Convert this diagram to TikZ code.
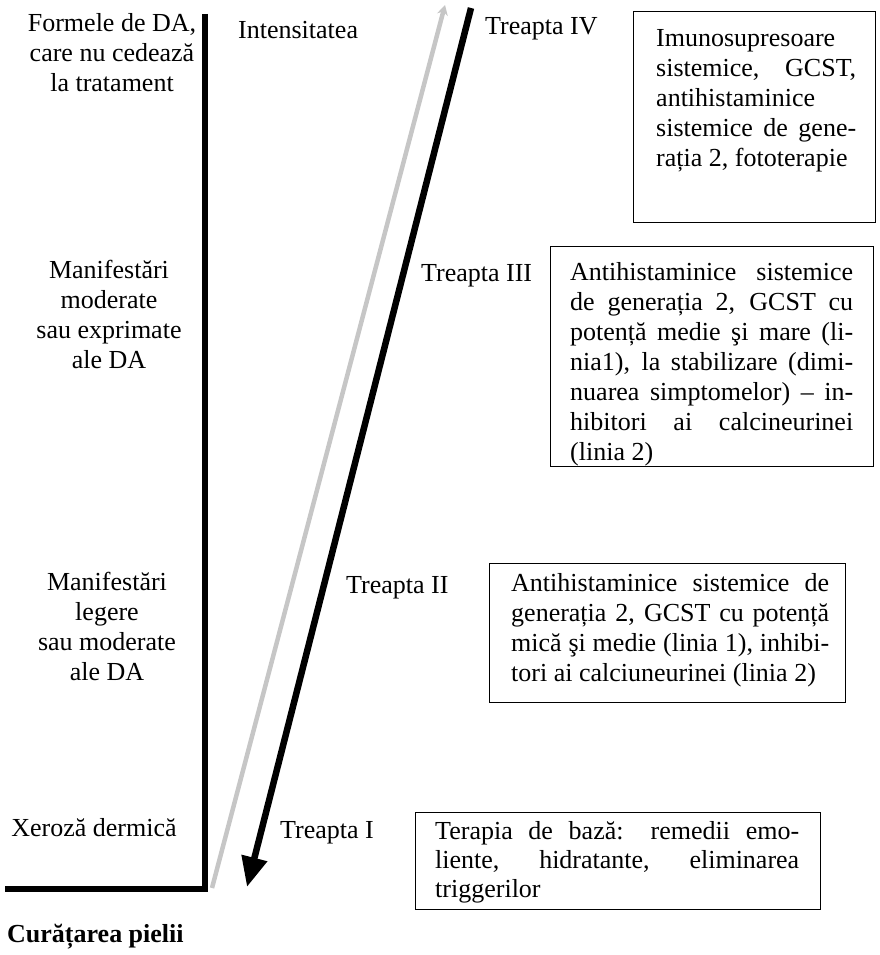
\documentclass[tikz,border=0pt]{standalone}
\usepackage{fontspec}
\setmainfont{Liberation Serif}
\usetikzlibrary{arrows.meta}
\begin{document}
\hyphenpenalty=10000 \tolerance=10000
\begin{tikzpicture}[x=1pt,y=-1pt,
  lbl/.style={font=\fontsize{26}{30}\selectfont, align=center, inner sep=0pt, anchor=base},
  stp/.style={font=\fontsize{26}{30.5}\selectfont, inner sep=0pt, anchor=base west},
  frame/.style={draw, line width=1.3pt, inner sep=0pt, anchor=north west},
  boxtext/.style={font=\fontsize{26}{30}\selectfont, align=justify, inner sep=0pt, anchor=base west}
]
\useasboundingbox (0,0) rectangle (879,955);

% axis
\coordinate (axtop) at (205,14);
\coordinate (axcorner) at (205,889);
\coordinate (axleft) at (5,889);
\draw[line width=6.5pt, line join=miter] (axtop) -- (axcorner) -- (axleft);

% arrows
\coordinate (gA) at (212,888);
\coordinate (gB) at (445,5);
\draw[gray!45, line width=4.5pt, -{Stealth[length=10pt,width=11pt]}] (gA) -- (gB);
\coordinate (kA) at (471,8);
\coordinate (kB) at (247,887);
\draw[line width=6.5pt, -{Triangle[length=30pt,width=25pt]}] (kA) -- (kB);

% left labels (anchor = baseline of last line)
\node[lbl] (l4) at (112,92) {Formele de DA,\\care nu cedează\\la tratament};
\node[lbl] (l3) at (109,368) {Manifestări\\moderate\\sau exprimate\\ale DA};
\node[lbl] (l2) at (107,680) {Manifestări\\legere\\sau moderate\\ale DA};
\node[lbl] (l1) at (94,836) {Xeroză dermică};
\node[font=\fontsize{26}{30}\selectfont\bfseries, inner sep=0pt, anchor=base west] (cur) at (7,942) {Curățarea pielii};
\node[stp] (int) at (238,39) {Intensitatea};

% steps
\node[stp] (s4) at (485,35) {Treapta IV};
\node[stp] (s3) at (421,281) {Treapta III};
\node[stp] (s2) at (346,593) {Treapta II};
\node[stp] (s1) at (280,838) {Treapta I};

% boxes
\node[frame, minimum width=242, minimum height=211] (b4) at (633,11) {};
\node[boxtext, text width=200] (t4) at (656,47) {Imunosupresoare\\sistemice, GCST,\linebreak antihistaminice\\sistemice de gene-\linebreak rația 2, fototerapie};

\node[frame, minimum width=323, minimum height=220] (b3) at (550,246) {};
\node[boxtext, text width=283] (t3) at (570,280) {Antihistaminice sistemice\linebreak de generația 2, GCST cu\linebreak potență medie şi mare (li-\linebreak nia1), la stabilizare (dimi-\linebreak nuarea simptomelor) -- in-\linebreak hibitori ai calcineurinei\linebreak (linia 2)};

\node[frame, minimum width=356, minimum height=139] (b2) at (489,563) {};
\node[boxtext, text width=318] (t2) at (511,591) {Antihistaminice sistemice de\linebreak generația 2, GCST cu potență\linebreak mică şi medie (linia 1), inhibi-\linebreak tori ai calciuneurinei (linia 2)};

\node[frame, minimum width=405, minimum height=97] (b1) at (415,812) {};
\node[boxtext, font=\fontsize{26}{29}\selectfont, text width=364] (t1) at (435,839) {Terapia de bază: remedii emo-\linebreak liente, hidratante, eliminarea\linebreak triggerilor};
\end{tikzpicture}
\end{document}
